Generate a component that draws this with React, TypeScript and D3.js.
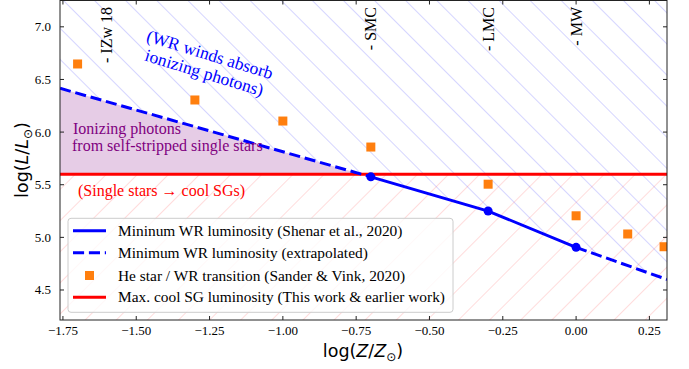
import React from "react";
import * as d3 from "d3";

// ---- data ----
const shenarZ = [-0.7, -0.3, 0.0];
const shenarL = [5.575, 5.25, 4.905];
const extrapLeftZ = [-1.76, -0.7];
const extrapLeftL = [6.416, 5.575];
const extrapRightZ = [0.0, 0.31];
const extrapRightL = [4.905, 4.6];
const sanderZ = [-1.7, -1.3, -1.0, -0.7, -0.3, 0.0, 0.176, 0.3];
const sanderL = [6.647, 6.305, 6.105, 5.858, 5.505, 5.205, 5.032, 4.911];
const coolSGL = 5.6;
const galaxyNames = ["IZw 18", "SMC", "LMC", "MW"];
const galaxyZ = [-1.6, -0.7, -0.3, 0.0];
const xTicks = [-1.75, -1.5, -1.25, -1.0, -0.75, -0.5, -0.25, 0.0, 0.25];
const yTicks = [4.5, 5.0, 5.5, 6.0, 6.5, 7.0];
const legendLabels = [
  "Mininum WR luminosity (Shenar et al., 2020)",
  "Minimum WR luminosity (extrapolated)",
  "He star / WR transition (Sander & Vink, 2020)",
  "Max. cool SG luminosity (This work & earlier work)",
];

const SERIF = "'Liberation Serif', 'Times New Roman', 'DejaVu Serif', serif";
const SANS = "'DejaVu Sans', sans-serif";

export default function App() {
  const W = 689, H = 369;
  const L = 60, R = 667, T = 0.5, B = 320;
  const x = d3.scaleLinear().domain([-1.76, 0.31]).range([L, R]);
  const y = d3.scaleLinear().domain([4.215, 7.25]).range([B, T]);

  const line = d3.line<[number, number]>().x(d => x(d[0])).y(d => y(d[1]));
  const zip = (a: number[], b: number[]) => a.map((v, i) => [v, b[i]] as [number, number]);

  const solidPts = zip(shenarZ, shenarL);
  const leftPts = zip(extrapLeftZ, extrapLeftL);
  const rightPts = zip(extrapRightZ, extrapRightL);

  // blue hatch region: above the whole WR curve
  const curve = [...leftPts, ...solidPts.slice(1), ...rightPts.slice(1)];
  const [xd0, xd1] = x.domain();
  const [, yd1] = y.domain();
  const bluePoly = [[xd0, yd1] as [number, number], ...curve, [xd1, yd1] as [number, number]];
  const bluePath = line(bluePoly) + "Z";

  // purple region between dashed line and red line
  const [z0, z1] = extrapLeftZ;
  const [l0, l1] = extrapLeftL;
  const zCross = z0 + ((l0 - coolSGL) / (l0 - l1)) * (z1 - z0);
  const purplePoly: [number, number][] = [[z0, l0], [zCross, coolSGL], [z0, coolSGL]];
  const purplePath = line(purplePoly) + "Z";

  const fmt = (v: number, d: number) => (v < 0 ? "\u2212" : "") + Math.abs(v).toFixed(d);
  const sq = 9;
  const legX = 68, legY = 218.3, legW = 385, legH = 94;
  const rowY = [230.7, 252.7, 275.5, 297.3];

  return (
    <svg width={W} height={H} style={{ position: "absolute", left: 0, top: 0, background: "#fff" }}>
      <defs>
        <clipPath id="plotClip">
          <rect x={L} y={T} width={R - L} height={B - T} />
        </clipPath>
        <pattern id="blueHatch" patternUnits="userSpaceOnUse" width={22} height={22} patternTransform="rotate(-45)">
          <line x1={0} y1={0} x2={0} y2={22} stroke="#0000ff" strokeOpacity={0.3} strokeWidth={1.1} />
        </pattern>
        <pattern id="redHatch" patternUnits="userSpaceOnUse" width={22} height={22} patternTransform="rotate(45)">
          <line x1={0} y1={0} x2={0} y2={22} stroke="#ff0000" strokeOpacity={0.25} strokeWidth={1.1} />
        </pattern>
      </defs>

      <g clipPath="url(#plotClip)">
        <path d={bluePath} fill="url(#blueHatch)" />
        <rect x={L} y={y(coolSGL)} width={R - L} height={B - y(coolSGL)} fill="url(#redHatch)" />
        <path d={purplePath} fill="purple" fillOpacity={0.2} />
        <line x1={L} x2={R} y1={y(coolSGL)} y2={y(coolSGL)} stroke="#ff0000" strokeWidth={3} />
        <path d={line(leftPts)!} fill="none" stroke="#0000ff" strokeWidth={3} strokeDasharray="11.1,4.8" />
        <path d={line(rightPts)!} fill="none" stroke="#0000ff" strokeWidth={3} strokeDasharray="11.1,4.8" />
        <path d={line(solidPts)!} fill="none" stroke="#0000ff" strokeWidth={3} />
        {solidPts.map((p, i) => (
          <circle key={i} cx={x(p[0])} cy={y(p[1])} r={4.5} fill="#0000ff" />
        ))}
        {sanderZ.map((z, i) => (
          <rect key={i} x={x(z) - sq / 2} y={y(sanderL[i]) - sq / 2} width={sq} height={sq} fill="#ff7f0e" />
        ))}
      </g>

      {/* galaxy labels */}
      {galaxyNames.map((n, i) => (
        <text key={n} transform={`translate(${x(galaxyZ[i])},7) rotate(-90)`} textAnchor="end"
          dominantBaseline="central" fontFamily={SERIF} fontSize={16} fill="#000">
          {"- " + n}
        </text>
      ))}

      {/* annotations */}
      <g transform="translate(207,64) rotate(17)" fontFamily={SERIF} fontSize={17.5} fill="#0000ff" textAnchor="middle">
        <text x={0} y={-4}>(WR winds absorb</text>
        <text x={0} y={15}>ionizing photons)</text>
      </g>
      <g fontFamily={SERIF} fontSize={16} fill="purple">
        <text x={73} y={134}>Ionizing photons</text>
        <text x={72} y={151}>from self-stripped single stars</text>
      </g>
      <text x={78} y={196} fontFamily={SERIF} fontSize={16} fill="#ff0000">(Single stars {"\u2192"} cool SGs)</text>

      {/* legend */}
      <rect x={legX} y={legY} width={legW} height={legH} rx={3} fill="#fff" fillOpacity={0.8} stroke="#cccccc" strokeWidth={1} />
      <line x1={73} x2={106} y1={rowY[0]} y2={rowY[0]} stroke="#0000ff" strokeWidth={3} />
      <line x1={73} x2={106} y1={rowY[1]} y2={rowY[1]} stroke="#0000ff" strokeWidth={3} strokeDasharray="11.1,4.8" />
      <rect x={89.5 - sq / 2} y={rowY[2] - sq / 2} width={sq} height={sq} fill="#ff7f0e" />
      <line x1={73} x2={106} y1={rowY[3]} y2={rowY[3]} stroke="#ff0000" strokeWidth={3} />
      {legendLabels.map((t, i) => (
        <text key={i} x={118} y={rowY[i] + 5} fontFamily={SERIF} fontSize={15.4} fill="#000">{t}</text>
      ))}

      {/* frame */}
      <rect x={L} y={T} width={R - L} height={B - T} fill="none" stroke="#222" strokeWidth={1} />

      {/* ticks */}
      {xTicks.map(t => (
        <g key={"x" + t}>
          <line x1={x(t)} x2={x(t)} y1={B} y2={B - 4} stroke="#222" />
          <line x1={x(t)} x2={x(t)} y1={T} y2={T + 4} stroke="#222" />
          <text x={x(t)} y={335} textAnchor="middle" fontFamily={SERIF} fontSize={13} fill="#000">{fmt(t, 2)}</text>
        </g>
      ))}
      {yTicks.map(t => (
        <g key={"y" + t}>
          <line x1={L} x2={L + 4} y1={y(t)} y2={y(t)} stroke="#222" />
          <line x1={R} x2={R - 4} y1={y(t)} y2={y(t)} stroke="#222" />
          <text x={51} y={y(t) + 4.5} textAnchor="end" fontFamily={SERIF} fontSize={13} fill="#000">{fmt(t, 1)}</text>
        </g>
      ))}

      {/* axis labels */}
      <text x={363} y={357} textAnchor="middle" fontFamily={SANS} fontSize={17.5} fill="#000">
        <tspan>log(</tspan><tspan fontStyle="italic">Z</tspan><tspan>/</tspan><tspan fontStyle="italic">Z</tspan>
        <tspan fontSize={12} dy={4}>{"\u2299"}</tspan><tspan dy={-4}>)</tspan>
      </text>
      <text transform="translate(28,160) rotate(-90)" textAnchor="middle" fontFamily={SANS} fontSize={17.5} fill="#000">
        <tspan>log(</tspan><tspan fontStyle="italic">L</tspan><tspan>/</tspan><tspan fontStyle="italic">L</tspan>
        <tspan fontSize={12} dy={4}>{"\u2299"}</tspan><tspan dy={-4}>)</tspan>
      </text>
    </svg>
  );
}
